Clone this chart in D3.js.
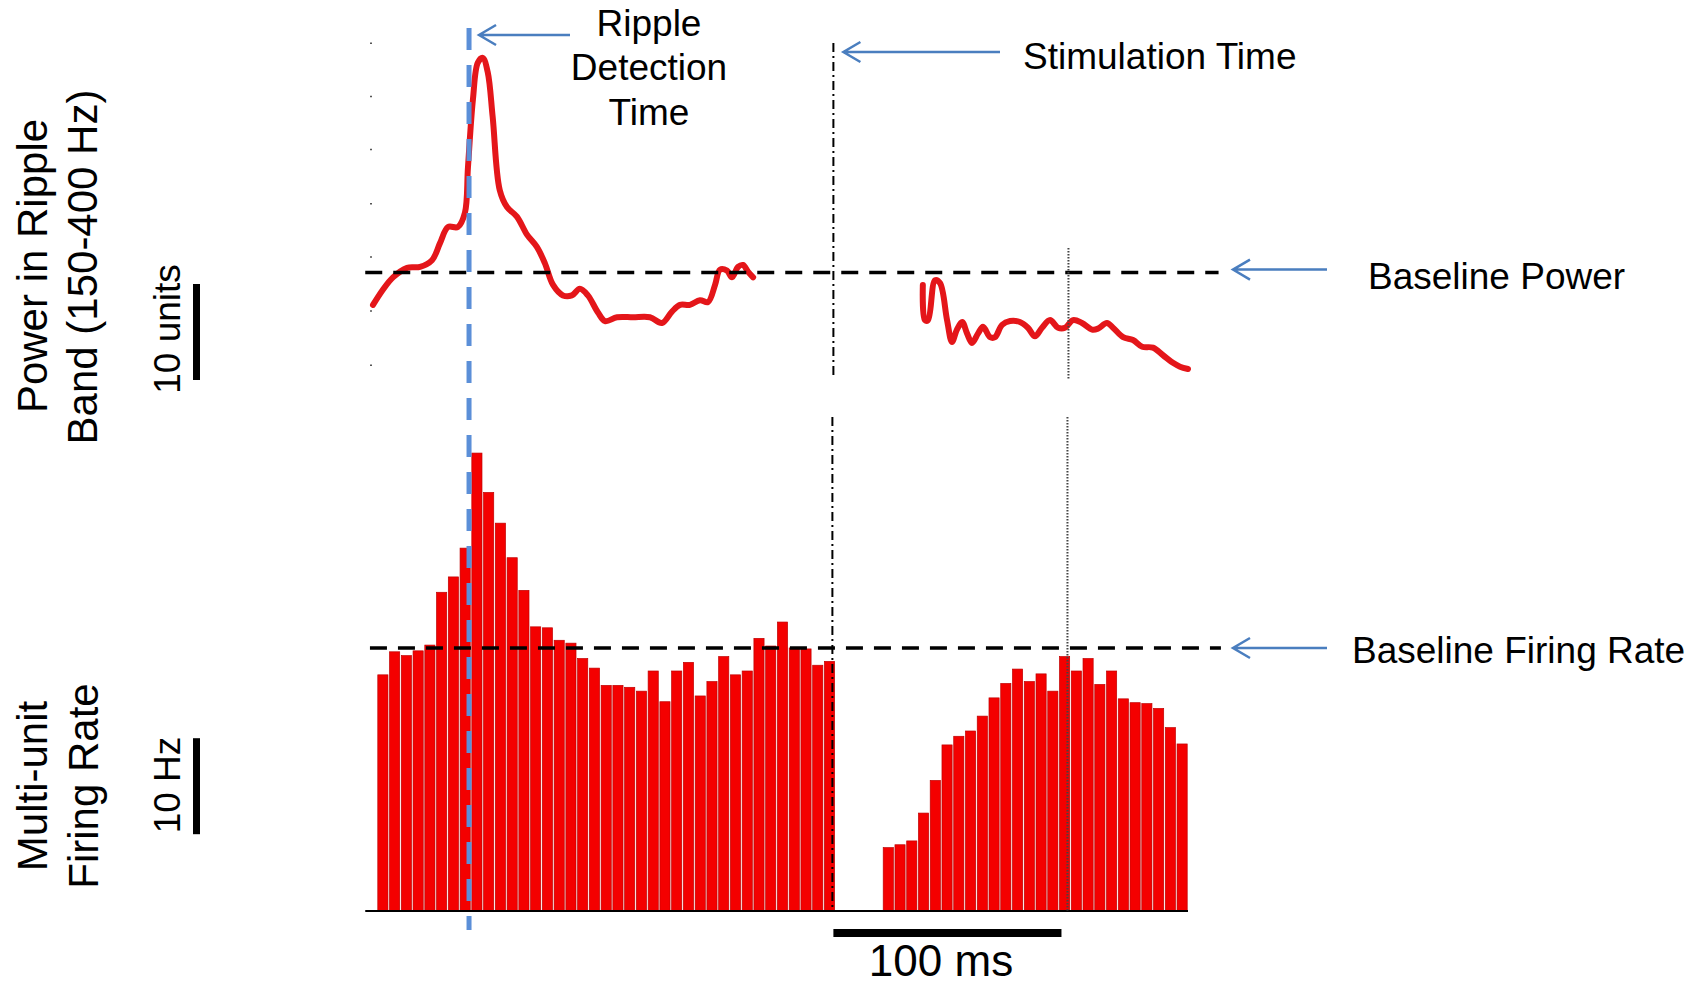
<!DOCTYPE html>
<html>
<head>
<meta charset="utf-8">
<script src="https://cdn.jsdelivr.net/npm/d3@7/dist/d3.min.js"></script>
<style>
  body { margin: 0; background: #fff; }
  svg { display: block; font-family: "Liberation Sans", Arial, sans-serif; }
</style>
</head>
<body>
<div id="chart"></div>
<script>
// time of each 5 ms bin start (ms, stimulation = 0)
var binStart = [-195, -190, -185, -180, -175, -170, -165, -160, -155, -150,
  -145, -140, -135, -130, -125, -120, -115, -110, -105, -100,
  -95, -90, -85, -80, -75, -70, -65, -60, -55, -50,
  -45, -40, -35, -30, -25, -20, -15, -10, -5, 0,
  5, 10, 15, 20, 25, 30, 35, 40, 45, 50,
  55, 60, 65, 70, 75, 80, 85, 90, 95, 100,
  105, 110, 115, 120, 125, 130, 135, 140, 145]

// multi-unit firing rate (Hz)
var rate = [24.6, 27.0, 26.6, 27.1, 27.7, 33.2, 34.8, 37.8, 47.7, 43.6,
  40.4, 36.8, 33.4, 29.6, 29.5, 28.2, 27.9, 26.3, 25.3, 23.5,
  23.5, 23.3, 22.9, 25.0, 21.8, 25.0, 25.9, 22.4, 23.9, 26.5,
  24.6, 25.0, 28.4, 27.6, 30.1, 27.4, 27.3, 25.6, 26.0, 0,
  0, 0, 0, 6.6, 6.9, 7.3, 10.2, 13.6, 17.3, 18.2,
  18.75, 20.3, 22.2, 23.7, 25.2, 23.9, 24.7, 22.9, 26.5, 25.0,
  26.3, 23.6, 25.0, 22.1, 21.7, 21.6, 21.1, 19.1, 17.4]

// ripple band power, before stimulation
var powerT1 = [-196.7, -192.5, -188.2, -182.2, -176.7, -171.6, -168.2, -164.8, -160.6, -157.6,
  -156.3, -154.2, -152.1, -150.0, -147.9, -145.8, -142.8, -139.7, -135.5, -131.2,
  -127.0, -123.6, -120.1, -115.9, -112.1, -108.7, -105.3, -101.0, -98.0, -92.9,
  -86.1, -78.9, -73.8, -69.5, -66.1, -61.9, -57.6, -54.2, -51.2, -49.1,
  -46.1, -44.0, -41.4, -39.3, -37.2, -35.0]
var powerV1 = [7.8, 9.4, 10.7, 11.7, 11.8, 12.5, 14.3, 16.0, 16.0, 17.5,
  22.3, 29.4, 33.3, 33.8, 32.3, 27.6, 19.9, 18.1, 17.1, 15.2,
  13.9, 12.2, 9.9, 8.8, 8.8, 9.5, 8.8, 7.0, 6.1, 6.5,
  6.5, 6.5, 5.9, 7.1, 7.8, 7.8, 8.3, 8.1, 9.9, 11.5,
  11.4, 10.7, 11.8, 12.0, 11.3, 10.7]

// ripple band power, after stimulation
var powerT2 = [37.2, 38.1, 39.4, 42.4, 44.5, 47.5, 49.6, 51.7, 53.9, 56.0,
  58.1, 60.7, 62.8, 65.8, 67.9, 70.9, 74.3, 78.5, 81.9, 84.9,
  87.9, 91.3, 94.7, 97.7, 101.1, 104.9, 109.2, 111.7, 115.5, 118.1,
  122.4, 126.6, 130.5, 135.1, 139.4, 143.6, 146.6, 150.0]
var powerV2 = [9.9, 6.2, 6.2, 10.4, 10.1, 6.2, 3.9, 5.2, 6.0, 4.8,
  3.8, 4.8, 5.5, 4.4, 4.4, 5.7, 6.1, 6.0, 5.4, 4.5,
  5.4, 6.2, 5.4, 5.4, 6.2, 5.9, 5.2, 5.3, 5.9, 5.4,
  4.4, 4.1, 3.4, 3.3, 2.5, 1.7, 1.3, 1.05]

var powerTicks = [1.5, 7.2, 12.9, 18.5, 24.2, 29.8, 35.4]
var baselinePower = 11.2
var baselineRate = 27.4
var rippleTime = -155
var stimTime = 0
var laterTime = 100

var binWidth = 5

var svg = d3.select("#chart").append("svg")
  .attr("width", 1700)
  .attr("height", 988)

var x = d3.scaleLinear()
  .domain([-195, 150])
  .range([377, 1188])

var yPow = d3.scaleLinear()
  .domain([0, 35])
  .range([379, 46.5])

var yRate = d3.scaleLinear()
  .domain([0, 50])
  .range([911, 431])

var blue = "#4a7ebf"

// faint tick dots of the power axis
var tickAxis = svg.append("g")
  .attr("transform", "translate(372,0)")
  .call(d3.axisLeft(yPow).tickValues(powerTicks).tickSize(2).tickFormat(""))
tickAxis.select(".domain").remove()
tickAxis.selectAll("line").attr("stroke", "#555").attr("stroke-width", 1.5)

// bars
svg.selectAll("rect.bar")
  .data(binStart.map((t, i) => ({ t: t, v: rate[i] })).filter(d => d.v > 0))
  .enter()
  .append("rect")
  .attr("class", "bar")
  .attr("x", d => x(d.t) + 0.8)
  .attr("width", x(binWidth) - x(0) - 1.6)
  .attr("y", d => yRate(d.v))
  .attr("height", d => yRate(0) - yRate(d.v))
  .attr("fill", "#f40000")
  .attr("stroke", "#c00000")
  .attr("stroke-width", 0.7)

// bottom axis line
svg.append("line")
  .attr("x1", x(-200)).attr("x2", x(150))
  .attr("y1", yRate(0)).attr("y2", yRate(0))
  .attr("stroke", "#000").attr("stroke-width", 2)

// power traces
var line = d3.line()
  .x(d => x(d[0]))
  .y(d => yPow(d[1]))
  .curve(d3.curveCatmullRom.alpha(0.5))

svg.append("path")
  .attr("d", line(powerT1.map((t, i) => [t, powerV1[i]])))
  .attr("fill", "none")
  .attr("stroke", "#e4161a")
  .attr("stroke-width", 6)
  .attr("stroke-linejoin", "round")
  .attr("stroke-linecap", "round")

svg.append("path")
  .attr("d", line(powerT2.map((t, i) => [t, powerV2[i]])))
  .attr("fill", "none")
  .attr("stroke", "#e4161a")
  .attr("stroke-width", 6)
  .attr("stroke-linejoin", "round")
  .attr("stroke-linecap", "round")

// baselines
svg.append("line")
  .attr("x1", x(-200)).attr("x2", x(163))
  .attr("y1", yPow(baselinePower)).attr("y2", yPow(baselinePower))
  .attr("stroke", "#000").attr("stroke-width", 3.5)
  .attr("stroke-dasharray", "17,11")

svg.append("line")
  .attr("x1", x(-198)).attr("x2", x(164))
  .attr("y1", yRate(baselineRate)).attr("y2", yRate(baselineRate))
  .attr("stroke", "#000").attr("stroke-width", 3.5)
  .attr("stroke-dasharray", "17,11")

// stimulation time (dash-dot)
svg.append("line")
  .attr("x1", x(stimTime) - 2).attr("x2", x(stimTime) - 2)
  .attr("y1", 43).attr("y2", 378)
  .attr("stroke", "#000").attr("stroke-width", 2)
  .attr("stroke-dasharray", "9,4,2,4")
svg.append("line")
  .attr("x1", x(stimTime) - 3).attr("x2", x(stimTime) - 3)
  .attr("y1", 417).attr("y2", 911)
  .attr("stroke", "#000").attr("stroke-width", 2)
  .attr("stroke-dasharray", "9,4,2,4")

// later reference (dotted)
svg.append("line")
  .attr("x1", x(laterTime) - 2).attr("x2", x(laterTime) - 2)
  .attr("y1", 248).attr("y2", 380)
  .attr("stroke", "#444").attr("stroke-width", 2)
  .attr("stroke-dasharray", "1.5,1.5")
svg.append("line")
  .attr("x1", x(laterTime) - 3).attr("x2", x(laterTime) - 3)
  .attr("y1", 417).attr("y2", 911)
  .attr("stroke", "#444").attr("stroke-width", 2)
  .attr("stroke-dasharray", "1.5,1.5")

// ripple detection time (blue dashed)
svg.append("line")
  .attr("x1", x(rippleTime) - 2).attr("x2", x(rippleTime) - 2)
  .attr("y1", 28).attr("y2", 930)
  .attr("stroke", "#5b8fd8").attr("stroke-width", 5)
  .attr("stroke-dasharray", "22,15")

// scale bars
svg.append("line")
  .attr("x1", 196.5).attr("x2", 196.5)
  .attr("y1", yPow(0) + 1).attr("y2", yPow(10))
  .attr("stroke", "#000").attr("stroke-width", 7)
svg.append("line")
  .attr("x1", 196.5).attr("x2", 196.5)
  .attr("y1", yRate(8)).attr("y2", yRate(18))
  .attr("stroke", "#000").attr("stroke-width", 7)
svg.append("line")
  .attr("x1", x(stimTime) - 2).attr("x2", x(laterTime) - 9)
  .attr("y1", 933).attr("y2", 933)
  .attr("stroke", "#000").attr("stroke-width", 8)

// arrows
function arrow(x1, x2, y) {
  svg.append("path")
    .attr("d", "M" + x2 + "," + y + "H" + x1 + "M" + (x1 + 17) + "," + (y - 10) + "L" + x1 + "," + y + "L" + (x1 + 17) + "," + (y + 10))
    .attr("fill", "none")
    .attr("stroke", blue)
    .attr("stroke-width", 2.5)
}
arrow(x(rippleTime) + 8, 570, 35)
arrow(x(stimTime) + 8, 1000, 52)
arrow(1233, 1327, yPow(baselinePower) - 3)
arrow(1233, 1327, yRate(baselineRate))

// annotation text
function label(txt, tx, ty, size, anchor) {
  return svg.append("text")
    .text(txt)
    .attr("x", tx)
    .attr("y", ty)
    .attr("font-size", size)
    .attr("text-anchor", anchor)
    .attr("fill", "#000")
}
label("Ripple", 649, 36, 37, "middle")
label("Detection", 649, 80, 37, "middle")
label("Time", 649, 125, 37, "middle")
label("Stimulation Time", 1023, 69, 37, "start")
label("Baseline Power", 1368, 289, 37, "start")
label("Baseline Firing Rate", 1352, 663, 37, "start")
label("100 ms", 941, 976, 44, "middle")

function vlabel(txt, bx, cy, size) {
  svg.append("text")
    .text(txt)
    .attr("transform", "translate(" + bx + "," + cy + ") rotate(-90)")
    .attr("font-size", size)
    .attr("text-anchor", "middle")
    .attr("fill", "#000")
}
vlabel("Power in Ripple", 47, 266, 42)
vlabel("Band (150-400 Hz)", 97, 267, 42)
vlabel("10 units", 180, 329, 37)
vlabel("Multi-unit", 47, 786, 42)
vlabel("Firing Rate", 98, 786, 42)
vlabel("10 Hz", 180, 785, 37)
</script>
</body>
</html>
